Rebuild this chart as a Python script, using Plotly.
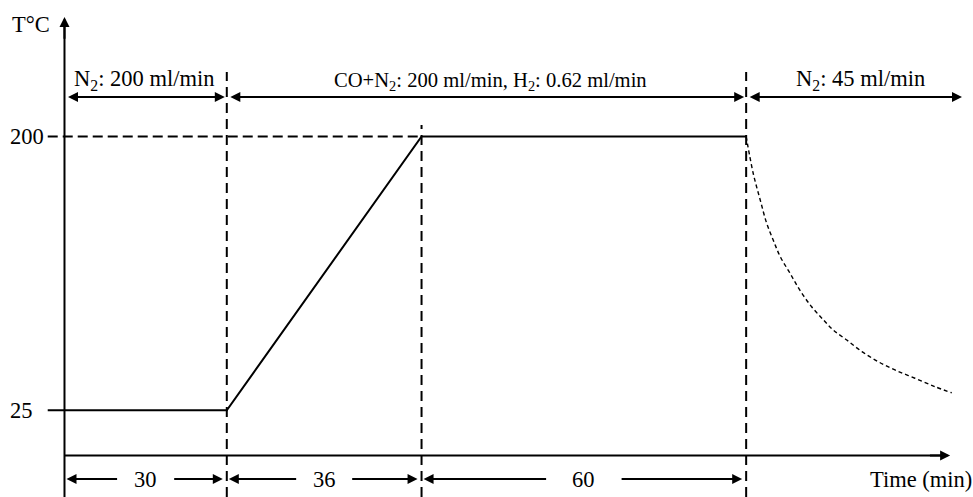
import plotly.graph_objects as go

# ---------------- data ----------------
segment_minutes = [30, 36, 60]            # N2 purge, heating ramp, isothermal hold
temp_levels = [25, 200]                   # start temperature, hold temperature (°C)
tick_labels = ["25", "200"]
duration_labels = ["30", "36", "60"]
gas_labels = [
    "N<sub>2</sub>: 200 ml/min",
    "CO+N<sub>2</sub>: 200 ml/min, H<sub>2</sub>: 0.62 ml/min",
    "N<sub>2</sub>: 45 ml/min",
]
# cooling branch (min, °C)
cool_time = [126, 127.3, 128.6, 129.8, 131.0, 132.3, 134.1, 135.9, 138.1, 140.3,
             142.1, 144.6, 147.4, 150.4, 153.5, 157.2, 160.9, 164.0]
cool_temp = [200, 176.5, 159.4, 144.5, 133.8, 123.2, 112.6, 101.9, 91.2, 82.7,
             76.3, 69.9, 62.5, 56.1, 50.8, 45.5, 40.1, 36.2]

# ---------------- layout constants (data units) ----------------
X_RANGE = [-11.92, 167.93]
Y_RANGE = [-30.4, 287.2]
AXIS_Y = -3.9          # where the time axis is drawn
X_TIP = 163.7          # end of time axis arrow
Y_TIP = 276.4          # end of temperature axis arrow
TICK_LEN = 3.1
TOP_Y = 225.2          # row of gas-flow arrows
DASH_TOPS = [241.2, 207.4, 241.2]   # top of each vertical dashed guide
BOTTOM_Y = -18.9       # row of duration arrows
LAST_END = 165.9       # end of last gas arrow
GAP = [5.0, 4.9, 6.7]  # half-gap around duration labels (min)
LABEL_XSHIFT = [-2, 4, 6]
LABEL_SIZE = [22.5, 20.6, 22.5]

FONT = dict(family="Liberation Serif, Times New Roman, serif", size=22.5, color="black")
BLACK = "black"

# derived time marks
t_marks = [0]
for d in segment_minutes:
    t_marks.append(t_marks[-1] + d)
T_low, T_high = temp_levels

fig = go.Figure()

# temperature programme (with the tick stub at 25)
fig.add_trace(go.Scatter(
    x=[-TICK_LEN, t_marks[0], t_marks[1], t_marks[2], t_marks[3]],
    y=[T_low, T_low, T_low, T_high, T_high],
    mode="lines", line=dict(color=BLACK, width=2), hoverinfo="skip"))

# dashed 200 guide (with tick stub)
fig.add_trace(go.Scatter(
    x=[-TICK_LEN, t_marks[2]], y=[T_high, T_high],
    mode="lines", line=dict(color=BLACK, width=2, dash="10px,5px"), hoverinfo="skip"))

# vertical dashed guides
vx, vy = [], []
for t, top in zip(t_marks[1:], DASH_TOPS):
    vx += [t, t, None]
    vy += [Y_RANGE[0], top, None]
fig.add_trace(go.Scatter(
    x=vx, y=vy, mode="lines",
    line=dict(color=BLACK, width=2, dash="10px,6px"), hoverinfo="skip"))

# cooling curve
fig.add_trace(go.Scatter(
    x=cool_time, y=cool_temp, mode="lines",
    line=dict(color=BLACK, width=1.4, dash="4px,3px", shape="spline"), hoverinfo="skip"))

# axes
fig.add_trace(go.Scatter(
    x=[t_marks[0], X_TIP - 1], y=[AXIS_Y, AXIS_Y], mode="lines",
    line=dict(color=BLACK, width=2), hoverinfo="skip"))
fig.add_trace(go.Scatter(
    x=[t_marks[0], t_marks[0]], y=[Y_RANGE[0], Y_TIP - 3], mode="lines",
    line=dict(color=BLACK, width=2), hoverinfo="skip"))

ann = []


def arrow(x, y, ax, ay, both=False, standoff=0, startstandoff=0):
    d = dict(x=x, y=y, ax=ax, ay=ay, xref="x", yref="y", axref="x", ayref="y",
             text="", showarrow=True, arrowhead=2, arrowsize=1, arrowwidth=2,
             arrowcolor=BLACK, standoff=standoff)
    if both:
        d.update(arrowside="end+start", startarrowhead=2, startarrowsize=1,
                 startstandoff=startstandoff)
    ann.append(d)


# axis arrowheads
arrow(X_TIP, AXIS_Y, X_TIP - 4, AXIS_Y)
arrow(t_marks[0], Y_TIP, t_marks[0], Y_TIP - 15)

# gas-flow arrows and labels
gas_bounds = [t_marks[0], t_marks[1], t_marks[3], LAST_END]
for i, lab in enumerate(gas_labels):
    a, b = gas_bounds[i], gas_bounds[i + 1]
    arrow(b, TOP_Y, a, TOP_Y, both=True,
          standoff=0 if i == len(gas_labels) - 1 else 2, startstandoff=2)
    ann.append(dict(x=(a + b) / 2, y=TOP_Y, xref="x", yref="y", text=lab,
                    showarrow=False, font=dict(FONT, size=LABEL_SIZE[i]),
                    yanchor="bottom", yshift=1, xshift=LABEL_XSHIFT[i]))

# duration arrows and labels
for i, lab in enumerate(duration_labels):
    a, b = t_marks[i], t_marks[i + 1]
    mid = (a + b) / 2
    arrow(a, BOTTOM_Y, mid - GAP[i], BOTTOM_Y, standoff=2)
    arrow(b, BOTTOM_Y, mid + GAP[i], BOTTOM_Y, standoff=4)
    ann.append(dict(x=mid, y=BOTTOM_Y, xref="x", yref="y", text=lab,
                    showarrow=False, font=FONT, yanchor="middle"))

# y tick labels
for v, lab in zip(temp_levels, tick_labels):
    ann.append(dict(x=X_RANGE[0], y=v, xref="x", yref="y", text=lab, showarrow=False,
                    font=FONT, xanchor="left", yanchor="middle", xshift=8))

# axis titles
ann.append(dict(x=t_marks[0], y=271.3, xref="x", yref="y", text="T°C", showarrow=False,
                font=FONT, xanchor="right", yanchor="middle", xshift=-12))
ann.append(dict(x=X_RANGE[1], y=BOTTOM_Y, xref="x", yref="y", text="Time (min)",
                showarrow=False, font=FONT, xanchor="right", yanchor="middle", xshift=1))

fig.update_layout(
    width=973, height=497, autosize=False,
    margin=dict(l=0, r=0, t=0, b=0, pad=0),
    paper_bgcolor="white", plot_bgcolor="white",
    showlegend=False,
    xaxis=dict(range=X_RANGE, visible=False, fixedrange=True),
    yaxis=dict(range=Y_RANGE, visible=False, fixedrange=True),
    annotations=ann,
    font=FONT,
)

fig.write_html("out.html", config={"displayModeBar": False},
               post_script="document.body.style.margin='0px';")
